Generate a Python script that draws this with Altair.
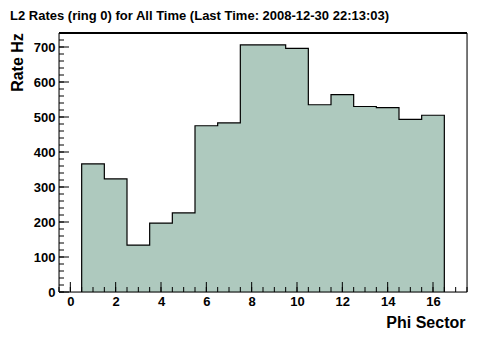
import altair as alt
import pandas as pd

# Histogram data (Phi sector bins 1..16)
sectors = list(range(1, 17))
rates = [366, 323, 134, 197, 226, 475, 483, 706, 706, 696, 535, 564, 530, 527, 493, 505]

x_major = [0, 2, 4, 6, 8, 10, 12, 14, 16]
x_minor = [i * 0.5 for i in range(-1, 36)]
y_major = [0, 100, 200, 300, 400, 500, 600, 700]
y_minor = list(range(0, 741, 20))

TITLE = "L2 Rates (ring 0) for All Time (Last Time: 2008-12-30 22:13:03)"
FONT = "Liberation Sans"
W, H = 408, 259
FILL = "#aec9be"

xscale = alt.Scale(domain=[-0.5, 17.5], nice=False, zero=False)
yscale = alt.Scale(domain=[0, 740], nice=False, zero=True)

# step-area data
edges = [s - 0.5 for s in sectors] + [sectors[-1] + 0.5]
area_df = pd.DataFrame({"x": edges, "y": rates + [rates[-1]]})

# outline polyline built from the bins
pts = [(sectors[0] - 0.5, 0)]
for s, r in zip(sectors, rates):
    pts.append((s - 0.5, r))
    pts.append((s + 0.5, r))
pts.append((sectors[-1] + 0.5, 0))
line_df = pd.DataFrame({"x": [p[0] for p in pts], "y": [p[1] for p in pts], "i": list(range(len(pts)))})

x_axis = alt.Axis(values=x_major, ticks=False, domain=False, grid=False,
                  labelFont=FONT, labelFontWeight="bold", labelFontSize=13, labelColor="black",
                  labelPadding=3, labelOverlap=False, title="Phi Sector", titleFont=FONT,
                  titleFontWeight="bold", titleFontSize=16, titleColor="black", titleAlign="right",
                  titleX=W - 2, titleY=30, titleBaseline="middle", labelFlush=False)
y_axis = alt.Axis(values=y_major, ticks=False, domain=False, grid=False, format="d",
                  labelFont=FONT, labelFontWeight="bold", labelFontSize=13, labelColor="black",
                  labelPadding=4, labelOverlap=False, title="Rate Hz", titleFont=FONT,
                  titleFontWeight="bold", titleFontSize=16, titleColor="black", titleAngle=270,
                  titleAlign="center", titleX=-42, titleY=29, titleBaseline="middle",
                  labelFlush=False)

X = lambda: alt.X("x:Q", scale=xscale, axis=x_axis, title="Phi Sector")
Y = lambda: alt.Y("y:Q", scale=yscale, axis=y_axis, title="Rate Hz")

area = alt.Chart(area_df).mark_area(interpolate="step-after", color=FILL, opacity=1).encode(
    x=X(), y=Y(),
)

outline = alt.Chart(line_df).mark_line(color="black", strokeWidth=1.2).encode(
    x=X(), y=Y(), order="i:Q",
)

def xticks(vals, length):
    return alt.Chart(pd.DataFrame({"x": vals})).mark_rule(color="black", strokeWidth=1).encode(
        x=X(), y=alt.value(H), y2=alt.value(H - length),
    )

def yticks(vals, length):
    return alt.Chart(pd.DataFrame({"y": vals})).mark_rule(color="black", strokeWidth=1).encode(
        y=Y(), x=alt.value(0), x2=alt.value(length),
    )

frame = alt.Chart(pd.DataFrame({"a": [0]})).mark_rect(fill=None, stroke="black", strokeWidth=1).encode(
    x=alt.value(0), x2=alt.value(W), y=alt.value(0), y2=alt.value(H)
)
top_edge = alt.Chart(pd.DataFrame({"a": [0]})).mark_rule(color="black", strokeWidth=2).encode(
    x=alt.value(0), x2=alt.value(W), y=alt.value(0)
)

chart = alt.layer(
    area, outline,
    xticks(x_minor, 5), xticks(x_major, 10),
    yticks(y_minor, 5), yticks(y_major, 10),
    frame, top_edge,
).properties(
    width=W, height=H,
    autosize="none",
    padding={"left": 51, "top": 25, "right": 17, "bottom": 44},
    title=alt.TitleParams(TITLE, anchor="start", frame="group", dx=-49, offset=9, font=FONT,
                          fontSize=13, fontWeight="bold", color="black"),
).configure_view(stroke=None).configure(background="white")

chart.save("out.html", embed_options={"renderer": "svg", "actions": False})
